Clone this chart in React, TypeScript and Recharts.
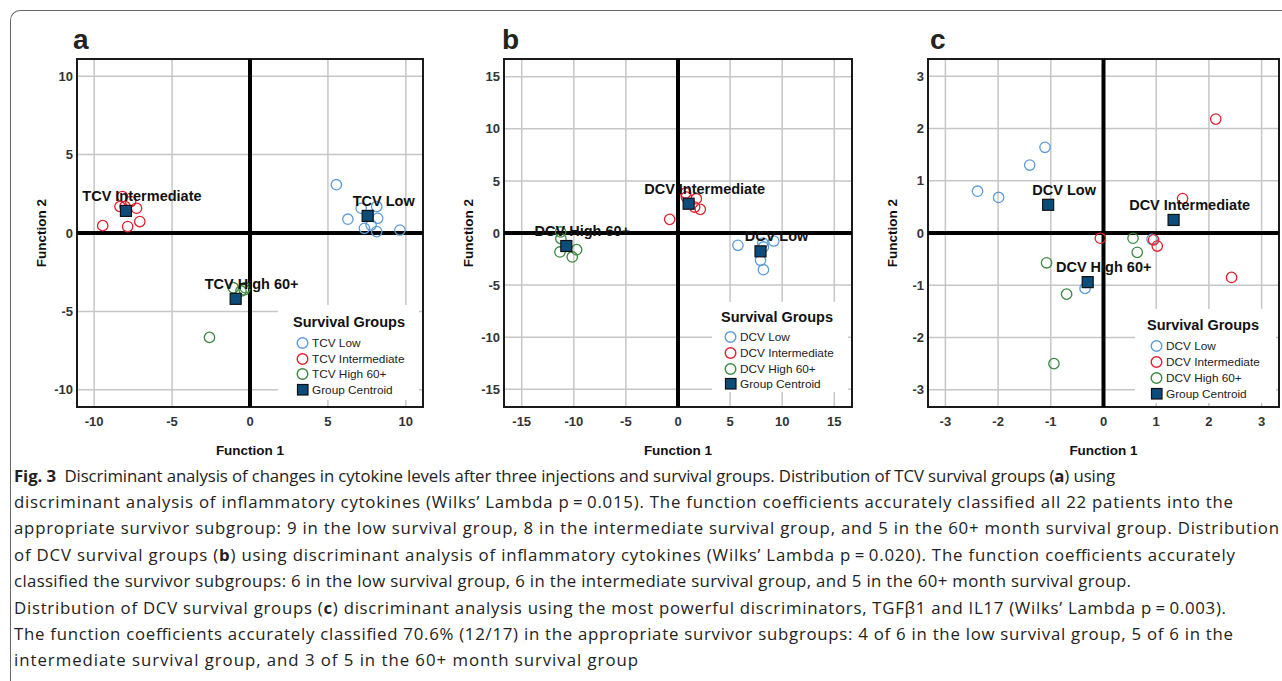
import React from "react";
import {
  ScatterChart,
  Scatter,
  XAxis,
  YAxis,
  CartesianGrid,
  ReferenceLine,
  ReferenceArea,
} from "recharts";

// ---- data: [Function 1, Function 2] ----
const tcvLow = [
  [5.54, 3.08], [6.28, 0.88], [7.13, 1.58], [8.13, 1.69], [8.19, 0.94],
  [7.34, 0.3], [7.77, 0.51], [8.13, 0.09], [9.62, 0.19],
];
const tcvIntermediate = [
  [-9.45, 0.47], [-8.34, 1.69], [-8.19, 2.33], [-7.66, 2.01],
  [-7.28, 1.58], [-7.07, 0.73], [-7.85, 0.41], [-8.02, 1.69],
];
const tcvHigh = [[-2.6, -6.66], [-1.07, -3.49], [-0.58, -3.7], [-0.37, -3.62], [-0.31, -3.49]];
const tcvCentroids = [
  ["TCV Low", 7.55, 1.09],
  ["TCV Intermediate", -7.96, 1.41],
  ["TCV High 60+", -0.92, -4.2],
];

const dcvLowB = [[5.75, -1.18], [8.14, -0.96], [8.2, -1.34], [9.19, -0.77], [7.92, -2.62], [8.2, -3.52]];
const dcvIntermediateB = [[-0.8, 1.31], [0.73, 3.84], [1.76, 3.29], [2.14, 2.27], [1.6, 2.49], [0.8, 3.45]];
const dcvHighB = [[-11.27, 0.1], [-11.24, -0.54], [-11.33, -1.82], [-10.15, -2.3], [-9.73, -1.6]];
const dcvCentroidsB = [
  ["DCV Low", 7.92, -1.76],
  ["DCV Intermediate", 1.02, 2.81],
  ["DCV High 60+", -10.72, -1.25],
];

const dcvLowC = [[-2.39, 0.8], [-1.99, 0.68], [-1.4, 1.3], [-1.11, 1.64], [-0.35, -1.06], [0.92, -0.12]];
const dcvIntermediateC = [[2.13, 2.18], [1.5, 0.66], [-0.06, -0.1], [0.95, -0.13], [1.02, -0.25], [2.43, -0.85]];
const dcvHighC = [[-1.08, -0.57], [-0.7, -1.17], [-0.94, -2.5], [0.56, -0.1], [0.64, -0.37]];
const dcvCentroidsC = [
  ["DCV Low", -1.05, 0.54],
  ["DCV Intermediate", 1.33, 0.25],
  ["DCV High 60+", -0.3, -0.94],
];

const ticksA = [-10, -5, 0, 5, 10];
const ticksB = [-15, -10, -5, 0, 5, 10, 15];
const ticksC = [-3, -2, -1, 0, 1, 2, 3];

const legendA = ["TCV Low", "TCV Intermediate", "TCV High 60+", "Group Centroid"];
const legendDCV = ["DCV Low", "DCV Intermediate", "DCV High 60+", "Group Centroid"];

const BLUE = "#5b9bd8";
const RED = "#e2202e";
const GREEN = "#3a8a3f";
const NAVY = "#0c4c7a";
const SANS = "'Liberation Sans', Arial, sans-serif";

const toPts = (arr: number[][]) => arr.map(([x, y]) => ({ x, y }));
const toCentroids = (arr: any[]) => arr.map(([name, x, y]) => ({ name, x, y }));

const circleShape = (color: string) => (p: any) => (
  <circle cx={p.cx} cy={p.cy} r={5.2} fill="none" stroke={color} strokeWidth={1.3} />
);

const centroidShape = (p: any) => (
  <g>
    <rect x={p.cx - 5.5} y={p.cy - 5.5} width={11} height={11} fill={NAVY} stroke="#111" strokeWidth={1.2} />
    <text
      x={p.cx + 16}
      y={p.cy - 15}
      textAnchor="middle"
      dominantBaseline="central"
      fontFamily={SANS}
      fontWeight="bold"
      fontSize={14.5}
      fill="#111"
    >
      {p.payload.name}
    </text>
  </g>
);

type PanelProps = {
  plotLeft: number;
  plotRight: number;
  domain: [number, number];
  ticks: number[];
  low: number[][];
  mid: number[][];
  high: number[][];
  centroids: any[];
};

function Panel({ plotLeft, plotRight, domain, ticks, low, mid, high, centroids }: PanelProps) {
  const width = plotRight - plotLeft + 90;
  const tickStyle = { fontFamily: SANS, fontWeight: "bold", fontSize: 13, fill: "#333" };
  const labelStyle = { fontFamily: SANS, fontWeight: "bold", fontSize: 13.5, fill: "#111" };
  return (
    <div style={{ position: "absolute", left: plotLeft - 80, top: 0 }}>
      <ScatterChart width={width} height={470} margin={{ top: 59, right: 10, left: 8, bottom: 13 }}>
        <CartesianGrid stroke="#c6c6c6" strokeWidth={1.5} />
        <XAxis
          type="number"
          dataKey="x"
          domain={domain}
          ticks={ticks}
          interval={0}
          allowDataOverflow
          height={50}
          tickLine={false}
          axisLine={false}
          tickSize={0}
          tickMargin={10}
          tick={tickStyle}
          label={{ value: "Function 1", position: "insideBottom", offset: 2, style: labelStyle }}
        />
        <YAxis
          type="number"
          dataKey="y"
          domain={domain}
          ticks={ticks}
          interval={0}
          allowDataOverflow
          width={72}
          tickLine={false}
          axisLine={false}
          tickSize={0}
          tickMargin={4}
          tick={tickStyle}
          label={{ value: "Function 2", angle: -90, position: "center", style: labelStyle }}
        />
        <Scatter data={toPts(low)} shape={circleShape(BLUE)} isAnimationActive={false} />
        <Scatter data={toPts(mid)} shape={circleShape(RED)} isAnimationActive={false} />
        <Scatter data={toPts(high)} shape={circleShape(GREEN)} isAnimationActive={false} />
        <Scatter data={toCentroids(centroids)} shape={centroidShape} isAnimationActive={false} />
        <ReferenceLine x={0} stroke="#000" strokeWidth={4} />
        <ReferenceLine y={0} stroke="#000" strokeWidth={4} />
        <ReferenceArea
          x1={domain[0]}
          x2={domain[1]}
          y1={domain[0]}
          y2={domain[1]}
          fill="none"
          fillOpacity={0}
          stroke="#1a1a1a"
          strokeWidth={2}
        />
      </ScatterChart>
    </div>
  );
}

function LegendBox({ box, titleLeft, titleY, rows, labels }: any) {
  const colors = [BLUE, RED, GREEN];
  return (
    <>
      <div
        style={{
          position: "absolute",
          left: box[0],
          top: box[1],
          width: box[2],
          height: box[3],
          background: "#fff",
        }}
      />
      <div
        style={{
          position: "absolute",
          left: titleLeft,
          top: titleY - 9,
          lineHeight: "18px",
          fontFamily: SANS,
          fontWeight: "bold",
          fontSize: 14.5,
          color: "#111",
          whiteSpace: "nowrap",
        }}
      >
        Survival Groups
      </div>
      {labels.map((label: string, i: number) => (
        <div
          key={label}
          style={{
            position: "absolute",
            left: titleLeft + 3,
            top: rows[i] - 7,
            height: 14,
            display: "flex",
            alignItems: "center",
            fontFamily: SANS,
            fontSize: 11.8,
            lineHeight: "14px",
            color: "#222",
            whiteSpace: "nowrap",
          }}
        >
          <svg width={14} height={14} style={{ marginRight: 2 }}>
            {i < 3 ? (
              <circle cx={6.5} cy={7} r={5.3} fill="none" stroke={colors[i]} strokeWidth={1.4} />
            ) : (
              <rect x={1.5} y={1.5} width={10.5} height={10.5} fill={NAVY} stroke="#111" strokeWidth={1.2} />
            )}
          </svg>
          {label}
        </div>
      ))}
    </>
  );
}

const letterStyle: React.CSSProperties = {
  position: "absolute",
  top: 26,
  fontFamily: "'Liberation Sans Narrow', 'Arial Narrow', 'Liberation Sans', sans-serif",
  fontWeight: "bold",
  fontSize: 28,
  lineHeight: "28px",
  color: "#222",
};

// right end of each caption line in the figure
const captionEnds = [1115, 1233, 1279, 1235, 1131, 1226, 1233, 638];
const eq = "\u2009=\u2009";

function Caption() {
  const lines: React.ReactNode[] = [
    <>
      <tspan fontWeight="bold">Fig. 3</tspan>
      {"\u00a0 Discriminant analysis of changes in cytokine levels after three injections and survival groups. Distribution of TCV survival groups ("}
      <tspan fontWeight="bold">a</tspan>
      {") using"}
    </>,
    <>{`discriminant analysis of inflammatory cytokines (Wilks’ Lambda p${eq}0.015). The function coefficients accurately classified all 22 patients into the`}</>,
    <>{"appropriate survivor subgroup: 9 in the low survival group, 8 in the intermediate survival group, and 5 in the 60+ month survival group. Distribution"}</>,
    <>
      {"of DCV survival groups ("}
      <tspan fontWeight="bold">b</tspan>
      {`) using discriminant analysis of inflammatory cytokines (Wilks’ Lambda p${eq}0.020). The function coefficients accurately`}
    </>,
    <>{"classified the survivor subgroups: 6 in the low survival group, 6 in the intermediate survival group, and 5 in the 60+ month survival group."}</>,
    <>
      {"Distribution of DCV survival groups ("}
      <tspan fontWeight="bold">c</tspan>
      {`) discriminant analysis using the most powerful discriminators, TGFβ1 and IL17 (Wilks’ Lambda p${eq}0.003).`}
    </>,
    <>{"The function coefficients accurately classified 70.6% (12/17) in the appropriate survivor subgroups: 4 of 6 in the low survival group, 5 of 6 in the"}</>,
    <>{"intermediate survival group, and 3 of 5 in the 60+ month survival group"}</>,
  ];
  return (
    <svg width={1282} height={221} style={{ position: "absolute", left: 0, top: 460 }}>
      {lines.map((content, i) => (
        <text
          key={i}
          x={14}
          y={21.5 + i * 26.4}
          textLength={captionEnds[i] - 14}
          lengthAdjust="spacing"
          fontFamily="'Open Sans', 'Noto Sans', sans-serif"
          fontSize={16.8}
          fill="#222"
          xmlSpace="preserve"
        >
          {content}
        </text>
      ))}
    </svg>
  );
}

export default function App() {
  return (
    <div style={{ position: "absolute", left: 0, top: 0, width: 1282, height: 681, overflow: "hidden", background: "#fff" }}>
      <div
        style={{
          position: "absolute",
          left: 10,
          top: 10,
          width: 1300,
          height: 700,
          borderLeft: "1.5px solid #666",
          borderTop: "1.5px solid #666",
          borderTopLeftRadius: 10,
        }}
      />
      <Panel plotLeft={77} plotRight={423} domain={[-11.1, 11.1]} ticks={ticksA}
        low={tcvLow} mid={tcvIntermediate} high={tcvHigh} centroids={tcvCentroids} />
      <Panel plotLeft={504} plotRight={852} domain={[-16.7, 16.7]} ticks={ticksB}
        low={dcvLowB} mid={dcvIntermediateB} high={dcvHighB} centroids={dcvCentroidsB} />
      <Panel plotLeft={928} plotRight={1279} domain={[-3.33, 3.33]} ticks={ticksC}
        low={dcvLowC} mid={dcvIntermediateC} high={dcvHighC} centroids={dcvCentroidsC} />

      <LegendBox box={[278, 305, 141, 95]} titleLeft={293} titleY={322} rows={[343, 359, 374, 390]} labels={legendA} />
      <LegendBox box={[712, 302, 136, 90]} titleLeft={721} titleY={317} rows={[337, 353, 369, 384]} labels={legendDCV} />
      <LegendBox box={[1135, 309, 141, 94]} titleLeft={1147} titleY={325} rows={[346, 362, 378, 394]} labels={legendDCV} />

      <div style={{ ...letterStyle, left: 73 }}>a</div>
      <div style={{ ...letterStyle, left: 502 }}>b</div>
      <div style={{ ...letterStyle, left: 930 }}>c</div>

      <Caption />
    </div>
  );
}
